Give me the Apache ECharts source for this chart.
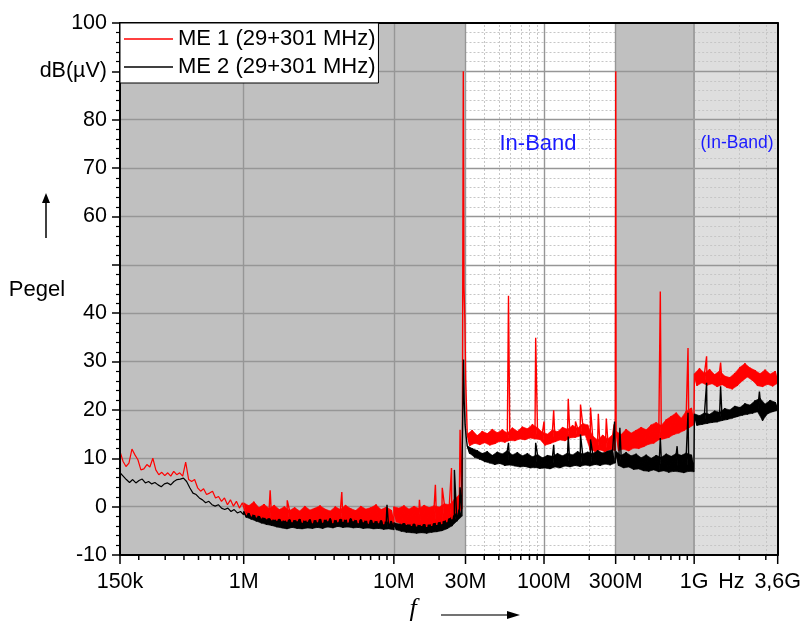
<!DOCTYPE html>
<html>
<head>
<meta charset="utf-8">
<title>Pegel ME 1 / ME 2</title>
<script src="https://cdn.jsdelivr.net/npm/echarts@6.0.0/dist/echarts.min.js"></script>
<style>
  html, body { margin: 0; padding: 0; background: #fff; }
  #chart { width: 804px; height: 624px; }
</style>
</head>
<body>
<div id="chart"></div>
<script type="text/javascript">
// frequencies in MHz, levels in dB(uV)
// sweep segments: [start, stop], the levels of a segment are spread evenly (log) over it
var me1Sweeps = [[0.15, 0.98], [1, 10], [10, 28.4], [30.8, 298], [302, 995], [1004, 3600]];
var me2Sweeps = [[0.15, 1], [1, 10], [10, 28.4], [30.8, 298], [302, 995], [1004, 3600]];

var me1Levels = [
    [11.4, 9.4, 8.3, 9.0, 11.9, 10.7, 9.7, 7.6, 7.8, 8.7, 8.2, 10.0, 7.6, 6.6, 7.1, 6.4, 7.0, 6.3, 7.3, 6.6, 7.0,
        6.3, 9.2, 5.6, 5.2, 5.6, 3.9, 3.2, 3.7, 2.5, 2.8, 3.2, 1.8, 2.1, 1.1, 1.8, 0.4, 1.4, 0.1, 1.1, -0.3, 0.8],
    [0.8, -1.8, 0.2, -2.0, 1.0, -2.2, -0.2, -2.4, 0.5, -2.6, -0.4, -2.8, 0.3, -2.9, -0.6, -3.0, 0.0, -3.1, -0.8, -3.2,
        -0.2, -3.0, -0.9, -3.3, 0.1, -3.1, -0.7, -3.4, -0.3, -3.2, 0.2, -3.3, -0.5, -3.0, -0.9, -3.4, 0.0, -3.2, -0.6, -3.1,
        0.3, -3.3, -0.4, -3.0, -0.8, -3.4, 0.1, -3.2, -0.5, -3.5, -0.2, -3.3, 0.4, -3.4, -0.6, -3.6, -0.1, -3.5, -0.7, -3.8],
    [0.0, -3.2, -0.3, -3.6, 0.2, -3.8, -0.5, -4.0, 0.1, -4.1, -0.4, -4.0, 0.3, -4.2, -0.2, -4.0, 0.2, -3.8, -0.1, -3.6,
        0.6, -3.2, 0.4, -2.6, 1.5, -1.8, 2.5, -0.5],
    [15.0, 12.6, 15.8, 13.1, 14.7, 12.8, 15.6, 13.2, 15.1, 12.7, 16.0, 13.0, 15.3, 13.5, 15.9, 13.3, 15.2, 13.7, 16.3, 13.6,
        15.6, 14.0, 16.5, 13.8, 16.1, 14.2, 17.0, 14.0, 16.3, 13.9, 15.4, 12.7, 15.0, 13.0, 15.9, 13.4, 15.5, 13.8, 16.4, 13.6,
        16.0, 14.2, 16.8, 14.3, 16.2, 14.6, 17.2, 14.8, 16.9, 11.8, 14.6, 11.4, 13.8, 11.7, 14.8, 11.3, 14.0, 11.8, 14.9, 11.6],
    [15.6, 11.6, 14.9, 11.9, 16.0, 11.5, 15.2, 12.1, 15.8, 12.0, 16.4, 12.4, 15.9, 12.9, 16.9, 13.1, 17.4, 13.8, 16.8, 14.0,
        18.0, 14.3, 18.7, 14.9, 19.4, 15.2, 18.3, 15.7, 19.8, 16.3, 20.4, 16.9],
    [27.5, 25.0, 28.6, 25.6, 27.6, 25.1, 28.4, 25.4, 27.3, 24.8, 28.1, 25.2, 27.0, 24.6, 26.7, 24.3, 27.6, 25.0, 28.8, 26.0,
        29.6, 26.8, 28.7, 26.1, 28.2, 25.0, 27.5, 24.8, 28.3, 25.3, 27.4, 24.9, 28.0, 25.5]
];
var me1Spikes = [[1.5, 3.4], [1.95, 1.3], [4.5, 3.0], [14.8, 1.4], [18.9, 4.5], [21, 3.9], [24.2, 8.0], [27.6, 15.9],
    [28.6, 16.0], [29.0, 90], [29.3, 45.5], [29.7, 39], [30.1, 26], [30.5, 20], [58, 43.6], [88, 34.9], [100, 17.6],
    [116, 19.9], [145, 22.3], [162, 17.6], [175, 21.1], [204, 20.5], [230, 19.2], [260, 18.2], [293, 17.0], [300.5, 90],
    [595, 44.5], [910, 32.8], [1210, 31.1], [1500, 29.8]];
var me1Lead = [[0.15, -10]];

var me2Levels = [
    [7.0, 6.3, 5.6, 5.0, 5.6, 4.9, 5.4, 5.7, 4.9, 5.2, 4.7, 5.0, 4.5, 4.1, 4.7, 4.9, 4.5, 5.2, 5.6, 5.7,
        5.9, 5.2, 3.9, 2.8, 2.5, 1.8, 1.4, 0.8, 1.1, 0.4, 0.1, 0.4, -0.3, -0.6, -0.3, -1.0, -0.6, -1.3, -1.0, -1.7],
    [-1.0, -2.2, -1.4, -2.6, -1.8, -3.0, -2.0, -3.4, -2.4, -3.7, -2.5, -3.9, -2.8, -4.2, -2.6, -4.4, -3.0, -4.6, -2.7, -4.3,
        -2.9, -4.5, -2.6, -4.6, -3.0, -4.4, -2.7, -4.5, -2.9, -4.3, -2.6, -4.5, -2.8, -4.2, -2.5, -4.4, -2.9, -4.1, -2.6, -4.3,
        -2.8, -4.2, -2.5, -4.4, -2.9, -4.3, -2.7, -4.5, -3.0, -4.4, -2.8, -4.6, -3.1, -4.5, -2.9, -4.7, -3.2, -4.6, -3.0, -4.8],
    [-3.3, -4.8, -3.6, -5.1, -3.5, -5.3, -3.8, -5.4, -3.6, -5.5, -3.9, -5.4, -3.7, -5.5, -3.8, -5.3, -3.5, -5.2, -3.3, -5.0,
        -3.0, -4.6, -2.5, -4.0, -1.8, -3.0, -0.5, -2.0],
    [12.6, 11.0, 12.0, 10.2, 11.6, 9.8, 11.0, 9.3, 11.4, 9.0, 10.6, 8.7, 11.3, 8.9, 10.9, 8.5, 11.6, 8.6, 10.7, 8.4,
        11.2, 8.2, 10.5, 8.3, 11.0, 8.0, 10.3, 8.1, 10.8, 7.9, 10.1, 8.0, 10.6, 7.8, 10.4, 8.2, 11.0, 8.0, 10.5, 8.4,
        11.1, 8.2, 10.7, 8.5, 11.4, 8.3, 10.9, 8.6, 11.3, 8.4, 11.0, 8.7, 11.6, 8.5, 11.1, 8.8, 11.5, 8.6, 11.8, 9.0],
    [11.4, 8.5, 10.6, 8.0, 11.2, 8.2, 10.5, 7.7, 10.9, 7.8, 10.1, 7.4, 10.7, 7.3, 10.0, 7.6, 10.6, 7.2, 10.2, 7.4,
        10.9, 7.1, 10.4, 7.3, 11.0, 7.2, 10.6, 7.0, 11.1, 7.3, 10.7, 7.2],
    [19.2, 16.8, 18.8, 17.0, 19.4, 17.2, 19.1, 17.4, 19.8, 17.5, 19.5, 17.8, 20.3, 18.0, 20.0, 18.3, 20.8, 18.6, 20.5, 18.9,
        21.3, 19.1, 21.0, 19.3, 21.9, 19.6, 22.4, 17.8, 21.2, 19.2, 22.0, 19.6, 21.6, 19.9]
];
var me2Spikes = [[9.0, 0.4], [25.3, 7.6], [27.6, 4.0], [28.5, 10], [28.9, 24], [29.1, 30.4], [29.4, 22], [29.8, 17],
    [30.3, 14.5], [58, 13.2], [88, 13.2], [116, 12.8], [145, 14.5], [175, 14.9], [204, 13.9], [295, 17.6], [320, 16.3],
    [595, 14.2], [770, 12.5], [910, 19.4], [1210, 25.6], [1500, 24.9], [2720, 23.8]];

// axis ticks and labels
var xLabelValues = [0.15, 1, 10, 30, 100, 300, 1000, 1770, 3600];
var xLabelTexts = ['150k', '1M', '10M', '30M', '100M', '300M', '1G', 'Hz', '3,6G'];
var xMajorTicks = [0.15, 1, 10, 30, 100, 300, 1000, 3600];
var xMinorTicks = [0.2, 0.3, 0.4, 0.5, 0.6, 0.7, 0.8, 0.9, 2, 3, 4, 5, 6, 7, 8, 9, 20, 40, 50, 60, 70, 80, 90,
    200, 400, 500, 600, 700, 800, 900, 2000, 3000];
var xMajorGrid = [1, 10, 30, 100, 300];
var xMinorGrid = [40, 50, 60, 70, 80, 90, 200, 2000, 3000];
var bandsDark = [[0.15, 30], [300, 1000]];
var bandsLight = [[1000, 3600]];
var bandsDotted = [[30, 300], [1000, 3600]];

var FONT = '"Liberation Sans", Arial, sans-serif';
var NAME1 = 'ME 1 (29+301 MHz)';
var NAME2 = 'ME 2 (29+301 MHz)';
var Y_MIN = -10;

// sweep samples [f, level, segment] of the segments from..to-1
function sweepPoints(sweeps, levels, from, to) {
    var pts = [];
    for (var i = from; i < to; i++) {
        var r = sweeps[i], lv = levels[i], n = lv.length;
        for (var j = 0; j < n; j++) {
            pts.push([r[0] * Math.pow(r[1] / r[0], j / (n - 1)), lv[j], i]);
        }
    }
    return pts;
}

function byFreq(a, b) { return a[0] - b[0]; }

// segment 0 is drawn as a thin line, the rest as a noise band with the spikes on top
function buildParts(sweeps, levels, spikes, lead) {
    var thin = (lead || []).concat(sweepPoints(sweeps, levels, 0, 1));
    var band = sweepPoints(sweeps, levels, 1, sweeps.length);
    var line = [thin[thin.length - 1]].concat(band, spikes).sort(byFreq);
    return { thin: thin, band: band, line: line };
}

var me1Parts = buildParts(me1Sweeps, me1Levels, me1Spikes, me1Lead);
var me2Parts = buildParts(me2Sweeps, me2Levels, me2Spikes, null);

// background bands and grid lines
var majorStyle = { color: '#969696', width: 1.4, type: 'solid' };
var minorStyle = { color: '#c6c6c6', width: 1, type: [2, 2] };
var areas = [];
bandsDark.forEach(function (b) {
    areas.push([{ xAxis: b[0], itemStyle: { color: '#c0c0c0' } }, { xAxis: b[1] }]);
});
bandsLight.forEach(function (b) {
    areas.push([{ xAxis: b[0], itemStyle: { color: '#dedede' } }, { xAxis: b[1] }]);
});
var lines = [];
xMinorGrid.forEach(function (v) { lines.push({ xAxis: v, lineStyle: minorStyle }); });
for (var y = -8; y < 100; y += 2) {
    if (y % 10 === 0) continue;
    bandsDotted.forEach(function (b) {
        lines.push([{ coord: [b[0], y], lineStyle: minorStyle }, { coord: [b[1], y] }]);
    });
}
for (var yy = 0; yy < 100; yy += 10) lines.push({ yAxis: yy, lineStyle: majorStyle });
xMajorGrid.forEach(function (v) { lines.push({ xAxis: v, lineStyle: majorStyle }); });
lines.push({ xAxis: 1000, lineStyle: { color: '#a0a0a0', width: 2, type: 'solid' } });

// frequency ticks below the axis: [f, 1 = major / 0 = minor]
var tickData = xMajorTicks.map(function (v) { return [v, 1]; })
    .concat(xMinorTicks.map(function (v) { return [v, 0]; }));

function xLabel(v) {
    for (var i = 0; i < xLabelValues.length; i++) {
        if (Math.abs(xLabelValues[i] - v) / xLabelValues[i] < 1e-4) return xLabelTexts[i];
    }
    return '';
}

function trace(name, data, color, width) {
    return {
        name: name,
        type: 'line',
        data: data,
        symbol: 'none',
        showSymbol: false,
        z: 3,
        lineStyle: { color: color, width: width },
        itemStyle: { color: color }
    };
}

// fills the gaps of the zigzag: one triangle per three neighbouring samples of one segment
function noiseFill(name, data, color) {
    return {
        name: name,
        type: 'custom',
        data: data,
        z: 3,
        silent: true,
        clip: true,
        encode: { x: 0, y: 1 },
        renderItem: function (params, api) {
            var i = params.dataIndexInside;
            if (i + 2 >= params.dataInsideLength) return null;
            if (api.value(2, i) !== api.value(2, i + 2)) return null;
            var pts = [];
            for (var k = 0; k < 3; k++) {
                pts.push(api.coord([api.value(0, i + k), api.value(1, i + k)]));
            }
            return { type: 'polygon', shape: { points: pts }, style: { fill: color, stroke: color, lineWidth: 0.6 } };
        }
    };
}

var myChart = echarts.init(document.getElementById('chart'), null, { renderer: 'canvas' });

myChart.setOption({
    animation: false,
    grid: { left: 120, right: 24, top: 23, bottom: 69, containLabel: false },
    legend: {
        orient: 'vertical',
        left: 120,
        top: 23,
        data: [NAME1, NAME2],
        icon: 'rect',
        itemWidth: 49,
        itemHeight: 1.4,
        itemGap: 4,
        padding: [4, 3, 4, 4],
        backgroundColor: '#fff',
        borderColor: '#000',
        borderWidth: 1,
        borderRadius: 0,
        textStyle: { fontSize: 22, lineHeight: 24, color: '#000', fontFamily: FONT },
        z: 20
    },
    xAxis: [{
        type: 'log',
        logBase: 10,
        min: 0.15,
        max: 3600,
        position: 'bottom',
        z: 10,
        axisLine: { show: true, onZero: false, lineStyle: { color: '#000', width: 2 } },
        axisTick: { show: false },
        minorTick: { show: false },
        axisLabel: {
            customValues: xLabelValues,
            formatter: xLabel,
            margin: 16,
            fontSize: 21.5,
            color: '#000',
            fontFamily: FONT
        },
        splitLine: { show: false }
    }, {
        type: 'log',
        logBase: 10,
        min: 0.15,
        max: 3600,
        position: 'top',
        z: 10,
        axisLine: { show: true, onZero: false, lineStyle: { color: '#000', width: 2 } },
        axisTick: { show: false },
        axisLabel: { show: false },
        splitLine: { show: false }
    }],
    yAxis: [{
        type: 'value',
        min: Y_MIN,
        max: 100,
        interval: 10,
        position: 'left',
        z: 10,
        axisLine: { show: true, onZero: false, lineStyle: { color: '#000', width: 2 } },
        axisTick: { show: true, inside: false, length: 8, lineStyle: { color: '#000', width: 1.5 } },
        minorTick: { show: true, splitNumber: 5, length: 4, lineStyle: { color: '#000', width: 1.2 } },
        axisLabel: {
            margin: 13,
            fontSize: 21.5,
            color: '#000',
            fontFamily: FONT,
            formatter: function (v) {
                if (v === 90) return 'dB(µV)';
                if (v === 50) return '';
                return String(v);
            }
        },
        splitLine: { show: false }
    }, {
        type: 'value',
        min: Y_MIN,
        max: 100,
        interval: 10,
        position: 'right',
        z: 10,
        axisLine: { show: true, onZero: false, lineStyle: { color: '#000', width: 2 } },
        axisTick: { show: false },
        axisLabel: { show: false },
        splitLine: { show: false }
    }],
    series: [{
        name: 'bands',
        type: 'line',
        data: [],
        symbol: 'none',
        silent: true,
        markArea: { silent: true, z: 1, itemStyle: { borderWidth: 0 }, data: areas }
    }, {
        name: 'grid',
        type: 'line',
        data: [],
        symbol: 'none',
        silent: true,
        markLine: { silent: true, z: 2, symbol: 'none', label: { show: false }, animation: false, data: lines }
    },
        noiseFill('ME 1 band', me1Parts.band, '#ff0000'),
        trace(NAME1, me1Parts.thin, '#ff0000', 1.2),
        trace(NAME1, me1Parts.line, '#ff0000', 1.4),
        noiseFill('ME 2 band', me2Parts.band, '#000000'),
        trace(NAME2, me2Parts.thin, '#000000', 1.2),
        trace(NAME2, me2Parts.line, '#000000', 1.4),
    {
        name: 'xticks',
        type: 'custom',
        data: tickData,
        z: 12,
        silent: true,
        clip: false,
        encode: { x: 0 },
        renderItem: function (params, api) {
            var p = api.coord([api.value(0), Y_MIN]);
            var len = api.value(1) ? 9 : 5;
            return {
                type: 'line',
                shape: { x1: p[0], y1: p[1], x2: p[0], y2: p[1] + len },
                style: { stroke: '#000', lineWidth: 1.5 }
            };
        }
    }],
    graphic: [
        { type: 'text', x: 538, y: 144, z: 15, style: { text: 'In-Band', fill: '#1a1aff', font: '22px ' + FONT, align: 'center', verticalAlign: 'middle' } },
        { type: 'text', x: 737, y: 143, z: 15, style: { text: '(In-Band)', fill: '#1a1aff', font: '17.5px ' + FONT, align: 'center', verticalAlign: 'middle' } },
        { type: 'text', x: 37, y: 290, z: 15, style: { text: 'Pegel', fill: '#000', font: '22px ' + FONT, align: 'center', verticalAlign: 'middle' } },
        { type: 'line', z: 15, shape: { x1: 46, y1: 238, x2: 46, y2: 200 }, style: { stroke: '#000', lineWidth: 1.5 } },
        { type: 'polygon', z: 15, shape: { points: [[42, 203], [46, 193], [50, 203]] }, style: { fill: '#000' } },
        { type: 'text', x: 413, y: 609, z: 15, style: { text: 'f', fill: '#000', font: 'italic 26px "Liberation Serif", serif', align: 'center', verticalAlign: 'middle' } },
        { type: 'line', z: 15, shape: { x1: 441, y1: 615, x2: 510, y2: 615 }, style: { stroke: '#444', lineWidth: 1.5 } },
        { type: 'polygon', z: 15, shape: { points: [[507, 611], [520, 615], [507, 619]] }, style: { fill: '#000' } }
    ]
});
</script>
</body>
</html>
